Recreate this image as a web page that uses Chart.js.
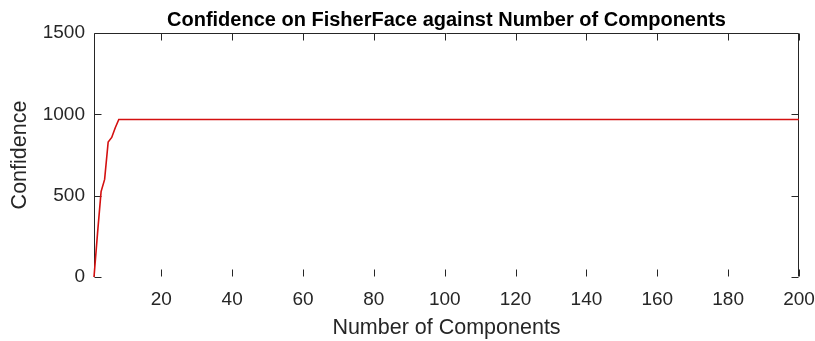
<!DOCTYPE html>
<html>
<head>
<meta charset="utf-8">
<script src="https://cdn.jsdelivr.net/npm/chart.js@4/dist/chart.umd.min.js"></script>
<style>
  html, body { margin: 0; padding: 0; background: #ffffff; }
  canvas { display: block; }
</style>
</head>
<body>
<canvas id="chart" width="815" height="341"></canvas>
<script>
// Number of FisherFace components (1..200)
const components = [
  1, 2, 3, 4, 5, 6, 7, 8, 9, 10, 11, 12, 13, 14, 15, 16, 17, 18, 19, 20,
  21, 22, 23, 24, 25, 26, 27, 28, 29, 30, 31, 32, 33, 34, 35, 36, 37, 38, 39, 40,
  41, 42, 43, 44, 45, 46, 47, 48, 49, 50, 51, 52, 53, 54, 55, 56, 57, 58, 59, 60,
  61, 62, 63, 64, 65, 66, 67, 68, 69, 70, 71, 72, 73, 74, 75, 76, 77, 78, 79, 80,
  81, 82, 83, 84, 85, 86, 87, 88, 89, 90, 91, 92, 93, 94, 95, 96, 97, 98, 99, 100,
  101, 102, 103, 104, 105, 106, 107, 108, 109, 110, 111, 112, 113, 114, 115, 116, 117, 118, 119, 120,
  121, 122, 123, 124, 125, 126, 127, 128, 129, 130, 131, 132, 133, 134, 135, 136, 137, 138, 139, 140,
  141, 142, 143, 144, 145, 146, 147, 148, 149, 150, 151, 152, 153, 154, 155, 156, 157, 158, 159, 160,
  161, 162, 163, 164, 165, 166, 167, 168, 169, 170, 171, 172, 173, 174, 175, 176, 177, 178, 179, 180,
  181, 182, 183, 184, 185, 186, 187, 188, 189, 190, 191, 192, 193, 194, 195, 196, 197, 198, 199, 200
];

// Confidence reported for each component count
const confidence = [
  0, 270, 525, 600, 830, 858, 918, 968, 968, 968, 968, 968, 968, 968, 968, 968, 968, 968, 968, 968,
  968, 968, 968, 968, 968, 968, 968, 968, 968, 968, 968, 968, 968, 968, 968, 968, 968, 968, 968, 968,
  968, 968, 968, 968, 968, 968, 968, 968, 968, 968, 968, 968, 968, 968, 968, 968, 968, 968, 968, 968,
  968, 968, 968, 968, 968, 968, 968, 968, 968, 968, 968, 968, 968, 968, 968, 968, 968, 968, 968, 968,
  968, 968, 968, 968, 968, 968, 968, 968, 968, 968, 968, 968, 968, 968, 968, 968, 968, 968, 968, 968,
  968, 968, 968, 968, 968, 968, 968, 968, 968, 968, 968, 968, 968, 968, 968, 968, 968, 968, 968, 968,
  968, 968, 968, 968, 968, 968, 968, 968, 968, 968, 968, 968, 968, 968, 968, 968, 968, 968, 968, 968,
  968, 968, 968, 968, 968, 968, 968, 968, 968, 968, 968, 968, 968, 968, 968, 968, 968, 968, 968, 968,
  968, 968, 968, 968, 968, 968, 968, 968, 968, 968, 968, 968, 968, 968, 968, 968, 968, 968, 968, 968,
  968, 968, 968, 968, 968, 968, 968, 968, 968, 968, 968, 968, 968, 968, 968, 968, 968, 968, 968, 968
];

const xTicks = [20, 40, 60, 80, 100, 120, 140, 160, 180, 200];
const yTicks = [0, 500, 1000, 1500];

const INK = '#262626';
const FONT = "'Liberation Sans', Arial, Helvetica, sans-serif";

// Box outline (top, left, right) with short inward tick marks on every side
const boxFrame = {
  id: 'boxFrame',
  beforeDatasetsDraw(chart) {
    const { ctx, chartArea: a, scales: { x, y } } = chart;
    const len = 7;
    const L = Math.round(a.left) + 0.5, R = Math.round(a.right) - 0.5;
    const T = Math.round(a.top) + 0.5, B = Math.round(a.bottom) - 0.5;
    ctx.save();
    ctx.strokeStyle = INK;
    ctx.lineWidth = 1;
    ctx.beginPath();
    ctx.moveTo(L, B); ctx.lineTo(L, T); ctx.lineTo(R, T); ctx.lineTo(R, B);
    for (const v of xTicks) {
      const px = Math.round(x.getPixelForValue(v)) + 0.5;
      ctx.moveTo(px, T); ctx.lineTo(px, T + len);
      ctx.moveTo(px, B); ctx.lineTo(px, B - len);
    }
    for (const v of yTicks) {
      const py = Math.round(y.getPixelForValue(v)) + 0.5;
      ctx.moveTo(L, py); ctx.lineTo(L + len, py);
      ctx.moveTo(R, py); ctx.lineTo(R - len, py);
    }
    ctx.stroke();
    ctx.restore();
  }
};

new Chart(document.getElementById('chart'), {
  type: 'line',
  data: {
    labels: components,
    datasets: [{
      label: 'Confidence',
      data: components.map((c, i) => ({ x: c, y: confidence[i] })),
      borderColor: '#d41010',
      borderWidth: 1.6,
      pointRadius: 0,
      tension: 0,
      fill: false,
      clip: false
    }]
  },
  options: {
    responsive: false,
    animation: false,
    devicePixelRatio: 1,
    layout: { padding: { left: 0, right: 0, top: 0, bottom: 0 } },
    plugins: {
      legend: { display: false },
      tooltip: { enabled: false },
      title: {
        display: true,
        fullSize: false,
        text: 'Confidence on FisherFace against Number of Components',
        color: '#000000',
        font: { family: FONT, size: 20, weight: 'bold', lineHeight: 1.2 },
        padding: { top: 8, bottom: 1 }
      }
    },
    scales: {
      x: {
        type: 'linear',
        min: 1,
        max: 200,
        afterBuildTicks: (s) => { s.ticks = xTicks.map(v => ({ value: v })); },
        afterFit: (s) => { s.height = 64; s.paddingLeft = 0; s.paddingRight = 16; },
        grid: { display: false, drawTicks: false },
        border: { display: false },
        ticks: {
          color: INK,
          padding: 11,
          maxRotation: 0,
          autoSkip: false,
          callback: (v) => String(v),
          font: { family: FONT, size: 19 }
        },
        title: {
          display: true,
          text: 'Number of Components',
          color: INK,
          font: { family: FONT, size: 21.5 },
          padding: { top: 0, bottom: 0 }
        }
      },
      y: {
        type: 'linear',
        min: 0,
        max: 1500,
        afterBuildTicks: (s) => { s.ticks = yTicks.map(v => ({ value: v })); },
        afterFit: (s) => { s.width = 94; },
        grid: { display: false, drawTicks: false },
        border: { display: false },
        ticks: {
          color: INK,
          padding: 9,
          callback: (v) => String(v),
          font: { family: FONT, size: 19 }
        },
        title: {
          display: true,
          text: 'Confidence',
          color: INK,
          font: { family: FONT, size: 21.5 },
          padding: { top: 7, bottom: 0 }
        }
      }
    }
  },
  plugins: [boxFrame]
});
</script>
</body>
</html>
